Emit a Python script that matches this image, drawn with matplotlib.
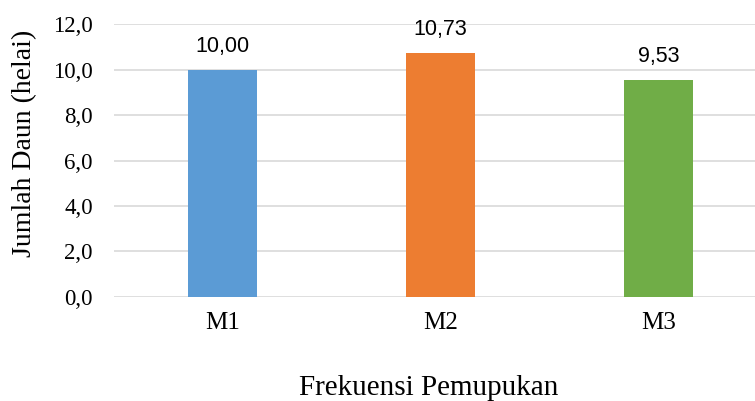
import matplotlib
matplotlib.use("Agg")
import matplotlib.pyplot as plt

categories = ["M1", "M2", "M3"]
values = [10.00, 10.73, 9.53]
value_labels = ["10,00", "10,73", "9,53"]
colors = ["#5B9BD5", "#ED7D31", "#70AD47"]
yticks = [0, 2, 4, 6, 8, 10, 12]
ytick_labels = ["0,0", "2,0", "4,0", "6,0", "8,0", "10,0", "12,0"]

W, H = 755, 401
fig = plt.figure(figsize=(W / 100, H / 100), dpi=100)
ax = fig.add_axes([113.5 / W, 104.2 / H, 654 / W, 272.5 / H])

x = list(range(len(categories)))
ax.bar(x, values, width=0.317, color=colors, zorder=3)
for xi, v, lab in zip(x, values, value_labels):
    ax.annotate(lab, (xi, v), xytext=(0, 9.5), textcoords="offset points",
                ha="center", va="bottom", fontsize=15.5, family="Liberation Sans")

ax.set_xlim(-0.5, 2.5)
ax.set_ylim(0, 12)
ax.set_yticks(yticks)
ax.set_yticklabels(ytick_labels, family="Liberation Serif", fontsize=16.5)
ax.set_xticks(x)
ax.set_xticklabels(categories, family="Liberation Serif", fontsize=18)
ax.tick_params(axis="y", length=0, pad=15)
ax.tick_params(axis="x", length=0, pad=11)
ax.yaxis.grid(True, color="#D9D9D9", linewidth=1.2, zorder=0)
for s in ax.spines.values():
    s.set_visible(False)

fig.text(25 / W, 1 - 143 / H, "Jumlah Daun (helai)", rotation=90,
         ha="center", va="center", family="Liberation Serif", fontsize=20)
fig.text(428.5 / W, 0, "Frekuensi Pemupukan", ha="center", va="bottom",
         family="Liberation Serif", fontsize=21)

fig.savefig("out.png", dpi=100)
